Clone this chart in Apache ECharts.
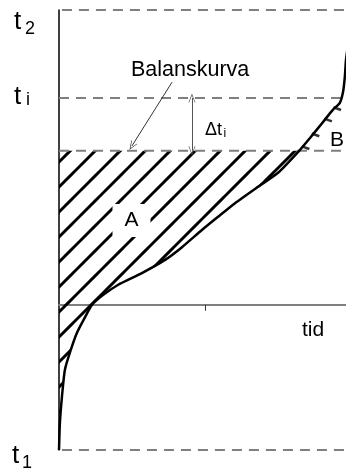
<!DOCTYPE html>
<html>
<head>
<meta charset="utf-8">
<script src="https://cdn.jsdelivr.net/npm/echarts@6/dist/echarts.min.js"></script>
<style>
html, body { margin: 0; padding: 0; background: #fff; }
#main { width: 346px; height: 470px; }
</style>
</head>
<body>
<div id="main"></div>
<script>
// kurvan (tid, temp) - läst från bilden
var curveX = [0, 0.03, 0.10, 0.20, 0.38, 0.61, 0.89, 1.13, 1.50, 2.01, 2.83, 3.62, 4.20, 4.88, 5.43, 6.01, 6.79, 7.48, 8.20, 8.57, 9.01, 9.35, 9.59, 9.70, 9.76, 9.80, 9.95];
var curveY = [-3.3, -2.69, -2.09, -1.48, -1.07, -0.64, -0.28, 0, 0.22, 0.45, 0.72, 1.02, 1.31, 1.70, 2.00, 2.31, 2.68, 3.00, 3.50, 3.79, 4.15, 4.43, 4.59, 4.84, 5.18, 5.56, 6.3];

// nivåer: t2, ti, balanskurva, t1
var levelValues = [6.7, 4.7, 3.5, -3.3];
var levelFrom = [-0.48, 0, 0, -0.48];
var levelTo = [9.8, 9.62, 9.8, 9.8];
var balans = 3.5;

// små streck i område B
var tickX = [8.42, 8.76, 9.19, 9.50];
var tickY = [3.57, 3.86, 4.20, 4.46];

var xTicks = [5];
var deltaX = 4.54;
var arrowFrom = [3.86, 5.06];
var arrowTo = [2.49, 3.61];

var FONT = '"Liberation Sans", Arial, sans-serif';

function hatchCanvas() {
    var s = 25;
    var c = document.createElement('canvas');
    c.width = s;
    c.height = s;
    var g = c.getContext('2d');
    g.strokeStyle = '#000';
    g.lineWidth = 3;
    for (var k = -1; k <= 1; k++) {
        g.beginPath();
        g.moveTo(-3, 21 + s * k + 3);
        g.lineTo(s + 3, 21 - s + s * k - 3);
        g.stroke();
    }
    return c;
}
var hatch = { image: hatchCanvas(), repeat: 'repeat' };

var chevron = 'path://M0,12 L5,0 L10,12 L9,12 L5,2.5 L1,12 Z';

var levelSeries = levelValues.map(function (v, i) {
    return {
        type: 'line',
        data: [[levelFrom[i], v], [levelTo[i], v]],
        symbol: 'none',
        clip: false,
        silent: true,
        z: 3,
        lineStyle: { color: '#7f7f7f', width: 2, type: [10, 7] }
    };
});

var myChart = echarts.init(document.getElementById('main'));
var option = {
    animation: false,
    grid: { left: 59, right: 0, top: 10, bottom: 20 },
    xAxis: {
        type: 'value',
        min: 0,
        max: 9.8,
        axisLine: { onZero: true, lineStyle: { color: '#808080', width: 2 } },
        axisTick: { show: true, customValues: xTicks, length: 6, lineStyle: { color: '#333', width: 1 } },
        axisLabel: { show: false },
        splitLine: { show: false }
    },
    yAxis: {
        type: 'value',
        min: -3.3,
        max: 6.7,
        axisLine: { show: true, onZero: false, lineStyle: { color: '#000', width: 1.5 } },
        axisTick: { show: false },
        axisLabel: { show: false },
        splitLine: { show: false }
    },
    series: [
        {
            type: 'custom',
            coordinateSystem: 'cartesian2d',
            data: [[0, balans]],
            silent: true,
            z: 1,
            renderItem: function (params, api) {
                var pts = [];
                for (var i = 0; i < curveX.length; i++) {
                    if (curveY[i] <= balans) pts.push(api.coord([curveX[i], curveY[i]]));
                }
                pts.push(api.coord([0, balans]));
                return {
                    type: 'polygon',
                    shape: { points: pts },
                    style: { fill: hatch, stroke: null }
                };
            }
        }
    ].concat(levelSeries).concat([
        {
            type: 'line',
            data: curveX.map(function (x, i) { return [x, curveY[i]]; }),
            symbol: 'none',
            smooth: 0.2,
            silent: true,
            z: 5,
            lineStyle: { color: '#000', width: 2.5 },
            markLine: {
                silent: true,
                symbol: [chevron, chevron],
                symbolSize: [7, 9],
                label: { show: false },
                lineStyle: { color: '#555', width: 1, type: 'solid' },
                data: [[{ coord: [deltaX, levelValues[2]] }, { coord: [deltaX, levelValues[1]] }]]
            }
        },
        {
            type: 'line',
            data: [],
            symbol: 'none',
            silent: true,
            markLine: {
                silent: true,
                symbol: ['none', chevron],
                symbolSize: [7, 9],
                label: { show: false },
                lineStyle: { color: '#333', width: 1, type: 'solid' },
                data: [[{ coord: arrowFrom }, { coord: arrowTo }]]
            }
        },
        {
            type: 'scatter',
            data: tickX.map(function (x, i) { return [x, tickY[i]]; }),
            symbol: 'rect',
            symbolSize: [8, 2.6],
            symbolRotate: -20,
            silent: true,
            z: 6,
            itemStyle: { color: '#000' }
        }
    ]),
    graphic: [
        { type: 'text', x: 14, y: 21.5, z: 100, style: { text: 't', font: '26px ' + FONT, fill: '#000', verticalAlign: 'middle' } },
        { type: 'text', x: 25, y: 29, z: 100, style: { text: '2', font: '18px ' + FONT, fill: '#000', verticalAlign: 'middle' } },
        { type: 'text', x: 14, y: 96.5, z: 100, style: { text: 't', font: '26px ' + FONT, fill: '#000', verticalAlign: 'middle' } },
        { type: 'text', x: 26, y: 100, z: 100, style: { text: 'i', font: '18px ' + FONT, fill: '#000', verticalAlign: 'middle' } },
        { type: 'text', x: 12, y: 456, z: 100, style: { text: 't', font: '26px ' + FONT, fill: '#000', verticalAlign: 'middle' } },
        { type: 'text', x: 22, y: 463, z: 100, style: { text: '1', font: '18px ' + FONT, fill: '#000', verticalAlign: 'middle' } },
        { type: 'text', x: 131, y: 70.5, z: 100, style: { text: 'Balanskurva', font: '21.5px ' + FONT, fill: '#000', verticalAlign: 'middle' } },
        { type: 'text', x: 205, y: 130, z: 100, style: { text: 'Δt', font: '18px ' + FONT, fill: '#000', verticalAlign: 'middle' } },
        { type: 'text', x: 223.5, y: 134, z: 100, style: { text: 'i', font: '12px ' + FONT, fill: '#000', verticalAlign: 'middle' } },
        { type: 'text', x: 131.5, y: 220.5, z: 100, style: { text: 'A', font: '21px ' + FONT, fill: '#000', align: 'center', verticalAlign: 'middle', backgroundColor: '#fff', padding: [6, 12] } },
        { type: 'text', x: 330, y: 140, z: 100, style: { text: 'B', font: '21px ' + FONT, fill: '#000', verticalAlign: 'middle' } },
        { type: 'text', x: 302, y: 330, z: 100, style: { text: 'tid', font: '21px ' + FONT, fill: '#000', verticalAlign: 'middle' } }
    ]
};
myChart.setOption(option);
</script>
</body>
</html>
